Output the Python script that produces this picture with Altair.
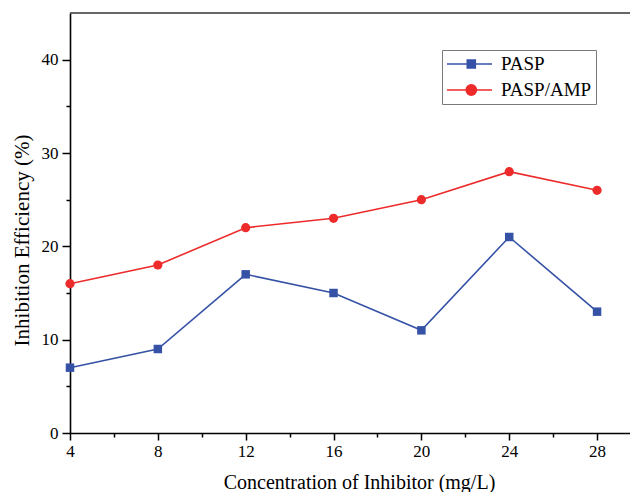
import altair as alt
import pandas as pd

# ---- data ----
conc = [4, 8, 12, 16, 20, 24, 28]
pasp = [7, 9, 17, 15, 11, 21, 13]
pasp_amp = [16, 18, 22, 23, 25, 28, 26]
series = ["PASP", "PASP/AMP"]
colors = ["#3552A6", "#ED2B2B"]
x_ticks = list(range(4, 29, 2))
y_ticks = list(range(0, 41, 5))

df = pd.DataFrame({
    "conc": conc + conc,
    "value": pasp + pasp_amp,
    "Series": [series[0]] * len(conc) + [series[1]] * len(conc),
})

W, H = 560, 420
FONT = "Liberation Serif"

x = alt.X(
    "conc:Q",
    scale=alt.Scale(domain=[4, 29.5], nice=False, zero=False),
    axis=alt.Axis(
        values=x_ticks,
        labelExpr="datum.value % 4 === 0 ? datum.label : ''",
        tickSize={"condition": {"test": "datum.value % 4 === 0", "value": 7}, "value": 4},
        title="Concentration of Inhibitor (mg/L)",
        titleFontSize=20,
        titlePadding=13,
        titleX=289,
        labelPadding=3,
        labelFlush=False,
    ),
)
y = alt.Y(
    "value:Q",
    scale=alt.Scale(domain=[0, 45], nice=False),
    axis=alt.Axis(
        values=y_ticks,
        labelExpr="datum.value % 10 === 0 ? datum.label : ''",
        tickSize={"condition": {"test": "datum.value % 10 === 0", "value": 8}, "value": 4},
        title="Inhibition Efficiency (%)",
        titleFontSize=21,
        titlePadding=9,
        titleY=227,
        labelPadding=4,
    ),
)


def series_layers(name, color, shape, size):
    base = alt.Chart(df).transform_filter(alt.datum.Series == name)
    line = base.mark_line(strokeWidth=1.6, color=color).encode(x=x, y=y)
    pts = base.mark_point(filled=True, shape=shape, size=size, opacity=1, color=color).encode(x=x, y=y)
    return [line, pts]


layers = series_layers(series[0], colors[0], "square", 72) + series_layers(series[1], colors[1], "circle", 85)

# legend: line + marker symbols
paths = [
    "M-1,0L4,0M1.25,-0.45L2.15,-0.45L2.15,0.45L1.25,0.45Z",
    "M-1,0L4,0M1.13,0A0.57,0.57 0 1,0 2.27,0A0.57,0.57 0 1,0 1.13,0Z",
]
leg = alt.Legend(
    title=None, orient="none", legendX=372, legendY=37,
    symbolSize=324, symbolStrokeWidth=1.5, symbolOpacity=1,
    labelOffset=35,
    labelFontSize=19, labelFont=FONT, labelColor="black",
    strokeColor="#7a7a7a", fillColor="white", padding=4, rowPadding=6,
)
legend_layer = alt.Chart(df).mark_point(filled=True, opacity=0).encode(
    x=x, y=y,
    fill=alt.Fill("Series:N", scale=alt.Scale(domain=series, range=colors), legend=leg),
    stroke=alt.Stroke("Series:N", scale=alt.Scale(domain=series, range=colors), legend=leg),
    shape=alt.Shape("Series:N", scale=alt.Scale(domain=series, range=paths), legend=leg),
)

frame = alt.Chart(pd.DataFrame({"k": [0]})).mark_rule(color="#333333", strokeWidth=1.6).encode(
    x=alt.value(0), x2=alt.value(W), y=alt.value(0)
)

chart = alt.layer(*layers, legend_layer, frame).properties(
    width=W, height=H,
    padding={"left": 70, "top": 13, "right": 0, "bottom": 59},
    autosize=alt.AutoSizeParams(type="none"),
).configure_view(stroke=None).configure_axis(
    grid=False,
    domainColor="black", domainWidth=1.6,
    tickColor="black", tickWidth=1.5,
    labelFont=FONT, labelFontSize=17, labelColor="black",
    titleFont=FONT, titleFontWeight="normal", titleColor="black",
)

chart.save("out.html", embed_options={"renderer": "svg", "actions": False})
